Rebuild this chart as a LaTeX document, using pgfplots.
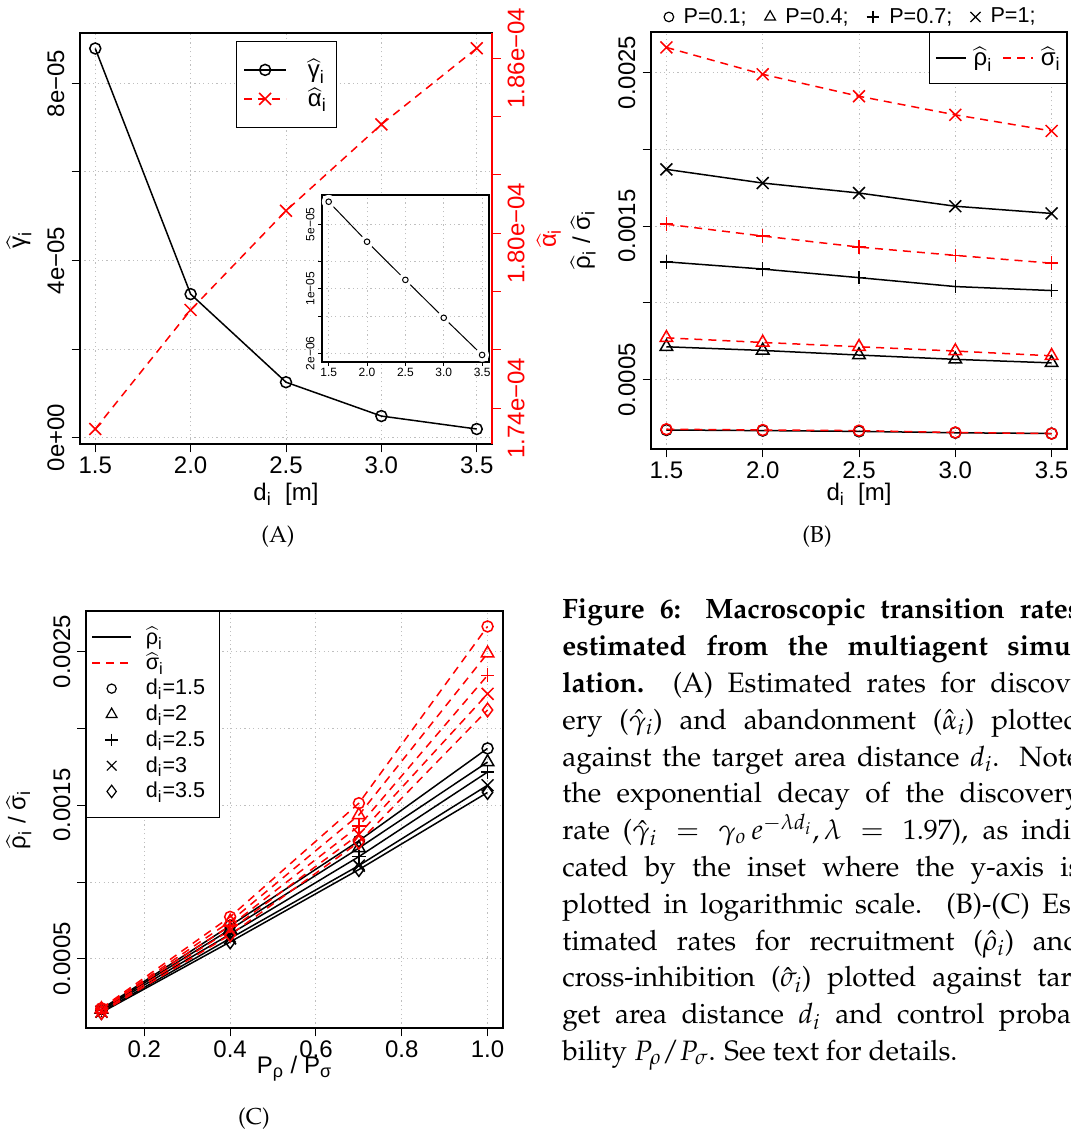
\documentclass[border=0pt]{standalone}
\usepackage[T1]{fontenc}
\usepackage{mathpazo}
\usepackage{amsmath}
\usepackage[no-math]{fontspec}
\setmainfont{Liberation Sans}
\usepackage{pgfplots}
\pgfplotsset{compat=1.18}
\usepackage{pgfplotstable}

\newcommand{\pal}{\fontencoding{T1}\fontfamily{ppl}\selectfont}
\newcommand{\hatg}[1]{$\widehat{\text{#1}}_{\text{i}}$}
\newcommand{\ftick}{\fontsize{12pt}{14pt}\selectfont}
\newcommand{\fleg}{\fontsize{10.8pt}{12.5pt}\selectfont}
\newcommand{\finset}{\fontsize{6pt}{7pt}\selectfont}
\newcommand{\fcap}{\fontsize{14pt}{18pt}\selectfont}

\pgfplotstableread{
d   gamma    alpha
1.5 8.79e-5  1.7329e-4
2.0 3.24e-5  1.7737e-4
2.5 1.25e-5  1.8077e-4
3.0 4.85e-6  1.8373e-4
3.5 1.92e-6  1.8634e-4
}\tabA

\pgfplotstableread{
d   r01      s01      r04      s04      r07      s07      r10      s10
1.5 0.000173 0.000178 0.000715 0.000773 0.001268 0.001513 0.001870 0.002664
2.0 0.000169 0.000173 0.000691 0.000743 0.001221 0.001436 0.001781 0.002489
2.5 0.000164 0.000169 0.000661 0.000715 0.001165 0.001364 0.001716 0.002346
3.0 0.000155 0.000157 0.000633 0.000687 0.001107 0.001310 0.001630 0.002225
3.5 0.000150 0.000150 0.000610 0.000656 0.001081 0.001259 0.001583 0.002120
}\tabB

\pgfplotstableread{
P   r15      s15      r20      s20      r25      s25      r30      s30      r35      s35
0.1 0.000173 0.000178 0.000169 0.000173 0.000164 0.000169 0.000155 0.000157 0.000150 0.000150
0.4 0.000715 0.000773 0.000691 0.000743 0.000661 0.000715 0.000633 0.000687 0.000610 0.000656
0.7 0.001268 0.001513 0.001221 0.001436 0.001165 0.001364 0.001107 0.001310 0.001081 0.001259
1.0 0.001870 0.002664 0.001781 0.002489 0.001716 0.002346 0.001630 0.002225 0.001583 0.002120
}\tabC

\pgfplotsset{
  Rbase/.style={
    scale only axis, tick align=outside, tick pos=left,
    major tick length=4.25pt,
    tick style={black, line width=0.5pt},
    axis line style={line width=0.6pt},
    scaled ticks=false,
    grid=major,
    major grid style={line width=0.5pt, black!25, dash pattern=on 0.6pt off 1.6pt},
    tick label style={font=\ftick},
    yticklabel style={rotate=90, anchor=south},
    xticklabel style={anchor=north, inner sep=2pt},
    legend cell align=left,
  },
  rho/.style={black, line width=0.75pt, mark options={solid}},
  sig/.style={red, line width=0.75pt, dash pattern=on 4pt off 3pt, mark options={solid}},
  legA/.style={legend image code/.code={\draw[mark repeat=2,mark phase=2,##1] plot coordinates {(0pt,0pt) (10.5pt,0pt) (21pt,0pt)};}},
  legB/.style={legend image code/.code={\draw[##1] (0pt,0pt) -- (15pt,0pt);}},
  legCline/.style={legend image code/.code={\draw[##1] (0pt,0pt) -- (19.5pt,0pt);}},
  legCmark/.style={legend image code/.code={\path[draw=none,fill=none] (0pt,0pt) -- (19.5pt,0pt); \draw[##1,/tikz/only marks] plot coordinates {(9.75pt,0pt)};}},
  legBtop/.style={legend image code/.code={\draw[##1,/tikz/only marks] plot coordinates {(0pt,0pt)};}},
}

\begin{document}
\begin{tikzpicture}
\path[use as bounding box] (0pt,0pt) rectangle (535pt,566.5pt);

%================ Panel A =================
\begin{axis}[Rbase,
  at={(40pt,344.5pt)}, anchor=south west, width=206pt, height=205.5pt,
  xmin=1.42, xmax=3.58, ymin=-1.46e-6, ymax=9.14e-5,
  xtick={1.5,2,2.5,3,3.5}, xticklabels={1.5,2.0,2.5,3.0,3.5},
  ytick={0,2e-5,4e-5,6e-5,8e-5}, yticklabels={0e+00,,4e−05,,8e−05},
  xlabel={$\text{d}_{\text{i}}$\ \ [m]}, ylabel={\hatg{γ}},
  every axis x label/.style={at={(axis description cs:0.5,-0.122)}, anchor=center, font=\ftick},
  every axis y label/.style={at={(axis description cs:-0.148,0.496)}, rotate=90, anchor=center, font=\ftick},
]
\addplot[rho, mark=o, mark size=2.75pt, mark options={fill=white}] table[x=d,y=gamma]{\tabA};
\end{axis}

\begin{axis}[
  scale only axis, at={(40pt,344.5pt)}, anchor=south west, width=206pt, height=205.5pt,
  xmin=1.42, xmax=3.58, ymin=1.72777e-4, ymax=1.86864e-4,
  axis x line=none, axis y line*=right,
  axis line style={red, line width=0.6pt},
  scaled ticks=false, tick align=outside, major tick length=4.25pt,
  tick style={red, line width=0.5pt},
  ytick={1.74e-4,1.76e-4,1.78e-4,1.80e-4,1.82e-4,1.84e-4,1.86e-4},
  yticklabels={1.74e−04,,,1.80e−04,,,1.86e−04},
  yticklabel style={red, rotate=90, anchor=north, font=\ftick},
  ylabel={\hatg{α}},
  every axis y label/.style={at={(axis description cs:1.138,0.5)}, rotate=90, anchor=center, red, font=\ftick},
  legend cell align=left,
  legend style={at={(axis description cs:0.3786,0.9805)}, anchor=north west, draw=black, fill=white,
    font=\ftick, inner xsep=3.5pt, inner ysep=7pt, row sep=0pt, column sep=10.5pt,
    nodes={inner sep=0pt, minimum height=14.5pt, text width=11pt}},
]
\addlegendimage{legA, rho, mark=o, mark size=2.75pt, mark options={fill=white}}
\addlegendentry{\hatg{γ}}
\addplot[sig, mark=x, mark size=4.2pt, legA] table[x=d,y=alpha]{\tabA};
\addlegendentry{\hatg{α}}
\end{axis}

% inset
\begin{axis}[Rbase,
  at={(161pt,385.5pt)}, anchor=south west, width=83.5pt, height=83.5pt,
  ymode=log, yminorticks=false,
  xmin=1.413, xmax=3.59, ymin=1.61e-6, ymax=1.04e-4,
  xtick={1.5,2,2.5,3,3.5}, xticklabels={1.5,2.0,2.5,3.0,3.5},
  ytick={2e-6,5e-6,1e-5,2e-5,5e-5}, yticklabels={2e−06,,1e−05,,5e−05},
  major tick length=2pt,
  tick label style={font=\finset},
  yticklabel style={inner sep=1.5pt}, xticklabel style={inner sep=1pt},
  axis background/.style={fill=white},
]
\addplot[black, line width=0.5pt] table[x=d,y=gamma]{\tabA};
\addplot[only marks, mark=*, mark size=3.2pt, white] table[x=d,y=gamma]{\tabA};
\addplot[only marks, mark=o, mark size=1.4pt, black, line width=0.5pt] table[x=d,y=gamma]{\tabA};
\end{axis}

%================ Panel B =================
\begin{axis}[Rbase,
  at={(325.5pt,342pt)}, anchor=south west, width=208pt, height=208.5pt,
  xmin=1.42, xmax=3.58, ymin=0.0000494, ymax=0.0027646,
  xtick={1.5,2,2.5,3,3.5}, xticklabels={1.5,2.0,2.5,3.0,3.5},
  ytick={0.0005,0.001,0.0015,0.002,0.0025}, yticklabels={0.0005,,0.0015,,0.0025},
  xlabel={$\text{d}_{\text{i}}$\ \ [m]}, ylabel={\hatg{ρ} / \hatg{σ}},
  every axis x label/.style={at={(axis description cs:0.5,-0.108)}, anchor=center, font=\ftick},
  every axis y label/.style={at={(axis description cs:-0.163,0.501)}, rotate=90, anchor=center, font=\ftick},
  legend columns=2,
  legend style={at={(rel axis cs:1,1)}, anchor=north east, draw=black, fill=white,
    font=\ftick, inner xsep=3pt, inner ysep=6.5pt, column sep=3.5pt,
    nodes={inner sep=0pt, minimum height=12.5pt},
    /tikz/every even column/.append style={column sep=5pt}},
]
\addlegendimage{legB, rho}
\addlegendentry{\hatg{ρ}}
\addlegendimage{legB, sig}
\addlegendentry{\hatg{σ}}
\addplot[rho, mark=o, mark size=2.75pt, forget plot] table[x=d,y=r01]{\tabB};
\addplot[rho, mark=triangle, mark size=3.6pt, forget plot] table[x=d,y=r04]{\tabB};
\addplot[rho, mark=+, mark size=3.4pt, forget plot] table[x=d,y=r07]{\tabB};
\addplot[rho, mark=x, mark size=4.2pt, forget plot] table[x=d,y=r10]{\tabB};
\addplot[sig, mark=o, mark size=2.75pt, forget plot] table[x=d,y=s01]{\tabB};
\addplot[sig, mark=triangle, mark size=3.6pt, forget plot] table[x=d,y=s04]{\tabB};
\addplot[sig, mark=+, mark size=3.4pt, forget plot] table[x=d,y=s07]{\tabB};
\addplot[sig, mark=x, mark size=4.2pt, forget plot] table[x=d,y=s10]{\tabB};
\end{axis}

% top legend of panel B
\begin{axis}[scale only axis, at={(325.5pt,342pt)}, anchor=south west, width=208pt, height=208.5pt,
  hide axis, xmin=0, xmax=1, ymin=0, ymax=1,
  legend columns=4,
  legend style={at={(axis description cs:0.478,1.036)}, anchor=center, draw=none, fill=none,
    font=\fleg, inner sep=0pt, column sep=5pt,
    nodes={inner sep=0pt},
    /tikz/every even column/.append style={column sep=9pt}},
]
\addlegendimage{legBtop, black, line width=0.6pt, mark=o, mark size=2.4pt}
\addlegendentry{P=0.1;}
\addlegendimage{legBtop, black, line width=0.6pt, mark=triangle, mark size=3.1pt}
\addlegendentry{P=0.4;}
\addlegendimage{legBtop, black, line width=0.6pt, mark=+, mark size=3.2pt}
\addlegendentry{P=0.7;}
\addlegendimage{legBtop, black, line width=0.6pt, mark=x, mark size=3.6pt}
\addlegendentry{P=1;}
\end{axis}

%================ Panel C =================
\begin{axis}[Rbase,
  at={(43pt,52.5pt)}, anchor=south west, width=208.5pt, height=208.5pt,
  xmin=0.064, xmax=1.036, ymin=0.0000494, ymax=0.0027646,
  xtick={0.2,0.4,0.6,0.8,1.0}, xticklabels={0.2,0.4,0.6,0.8,1.0},
  ytick={0.0005,0.001,0.0015,0.002,0.0025}, yticklabels={0.0005,,0.0015,,0.0025},
  xlabel={$\text{P}_{\text{ρ}}$ / $\text{P}_{\text{σ}}$}, ylabel={\hatg{ρ} / \hatg{σ}},
  every axis x label/.style={at={(axis description cs:0.5,-0.098)}, anchor=center, font=\ftick},
  every axis y label/.style={at={(axis description cs:-0.161,0.499)}, rotate=90, anchor=center, font=\ftick},
  legend style={at={(axis description cs:0,1)}, anchor=north west, draw=black, fill=white,
    font=\fleg, inner xsep=2.5pt, inner ysep=6.5pt, row sep=0pt, column sep=7pt,
    nodes={inner sep=0pt, minimum height=12.85pt, text width=34pt}},
]
\addlegendimage{legCline, rho}
\addlegendentry{\hatg{ρ}}
\addlegendimage{legCline, sig}
\addlegendentry{\hatg{σ}}
\addlegendimage{legCmark, black, line width=0.6pt, mark=o, mark size=2.3pt}
\addlegendentry{$\text{d}_{\text{i}}$=1.5}
\addlegendimage{legCmark, black, line width=0.6pt, mark=triangle, mark size=3.1pt}
\addlegendentry{$\text{d}_{\text{i}}$=2}
\addlegendimage{legCmark, black, line width=0.6pt, mark=+, mark size=3.2pt}
\addlegendentry{$\text{d}_{\text{i}}$=2.5}
\addlegendimage{legCmark, black, line width=0.6pt, mark=x, mark size=3.4pt}
\addlegendentry{$\text{d}_{\text{i}}$=3}
\addlegendimage{legCmark, black, line width=0.6pt, mark=diamond, mark size=3.1pt}
\addlegendentry{$\text{d}_{\text{i}}$=3.5}
\addplot[rho, mark=o, mark size=2.75pt, forget plot] table[x=P,y=r15]{\tabC};
\addplot[rho, mark=triangle, mark size=3.6pt, forget plot] table[x=P,y=r20]{\tabC};
\addplot[rho, mark=+, mark size=3.4pt, forget plot] table[x=P,y=r25]{\tabC};
\addplot[rho, mark=x, mark size=4.2pt, forget plot] table[x=P,y=r30]{\tabC};
\addplot[rho, mark=diamond, mark size=3.4pt, forget plot] table[x=P,y=r35]{\tabC};
\addplot[sig, mark=o, mark size=2.75pt, forget plot] table[x=P,y=s15]{\tabC};
\addplot[sig, mark=triangle, mark size=3.6pt, forget plot] table[x=P,y=s20]{\tabC};
\addplot[sig, mark=+, mark size=3.4pt, forget plot] table[x=P,y=s25]{\tabC};
\addplot[sig, mark=x, mark size=4.2pt, forget plot] table[x=P,y=s30]{\tabC};
\addplot[sig, mark=diamond, mark size=3.4pt, forget plot] table[x=P,y=s35]{\tabC};
\end{axis}

%================ Panel labels =================
\node at (139pt,298pt) {\pal\fontsize{11.5pt}{13pt}\selectfont (A)};
\node at (408.5pt,298pt) {\pal\fontsize{11.5pt}{13pt}\selectfont (B)};
\node at (127pt,7pt) {\pal\fontsize{11.5pt}{13pt}\selectfont (C)};

%================ Caption =================
\begin{scope}[every node/.style={anchor=base west, inner sep=0pt}]
\node at (281pt,257.0pt) {\pal\fcap\makebox[259pt][s]{\bfseries Figure 6: Macroscopic transition rates}};
\node at (281pt,238.6pt) {\pal\fcap\makebox[259pt][s]{\bfseries estimated from the multiagent simu-}};
\node at (281pt,220.2pt) {\pal\fcap\makebox[259pt][s]{\textbf{lation.}\ \ (A) Estimated rates for discov-}};
\node at (281pt,201.8pt) {\pal\fcap\makebox[259pt][s]{ery ($\hat{\gamma}_i$) and abandonment ($\hat{\alpha}_i$) plotted}};
\node at (281pt,183.4pt) {\pal\fcap\makebox[259pt][s]{against the target area distance $d_i$. Note}};
\node at (281pt,165.0pt) {\pal\fcap\makebox[259pt][s]{the exponential decay of the discovery}};
\node at (281pt,146.6pt) {\pal\fcap\makebox[259pt][s]{rate ($\hat{\gamma}_i = \gamma_o\, e^{-\lambda d_i}, \lambda = 1.97$), as indi-}};
\node at (281pt,128.2pt) {\pal\fcap\makebox[259pt][s]{cated by the inset where the y-axis is}};
\node at (281pt,109.8pt) {\pal\fcap\makebox[259pt][s]{plotted in logarithmic scale.\ \ (B)-(C) Es-}};
\node at (281pt,91.4pt) {\pal\fcap\makebox[259pt][s]{timated rates for recruitment ($\hat{\rho}_i$) and}};
\node at (281pt,73.0pt) {\pal\fcap\makebox[259pt][s]{cross-inhibition ($\hat{\sigma}_i$) plotted against tar-}};
\node at (281pt,54.6pt) {\pal\fcap\makebox[259pt][s]{get area distance $d_i$ and control proba-}};
\node at (281pt,36.2pt) {\pal\fcap bility $P_\rho/P_\sigma$. See text for details.};
\end{scope}
\end{tikzpicture}
\end{document}
